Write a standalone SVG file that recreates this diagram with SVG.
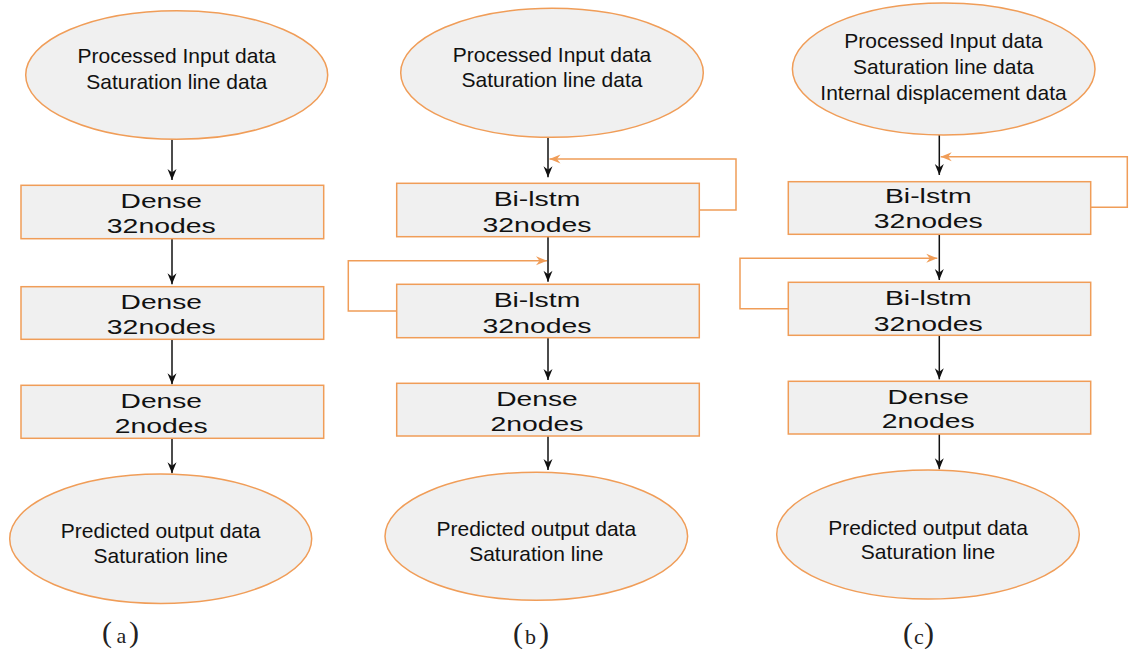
<svg xmlns="http://www.w3.org/2000/svg" width="1133" height="649" viewBox="0 0 1133 649">
  <style>
    .term { fill: #f0f0f0; stroke: #f09d58; stroke-width: 1.5; }
    .layer { fill: #f0f0f0; stroke: #f09d58; stroke-width: 1.5; }
    .flow { fill: none; stroke: #111; stroke-width: 1.5; marker-end: url(#arrowBlack); }
    .loop { fill: none; stroke: #f09d58; stroke-width: 1.5; marker-end: url(#arrowOrange); }
    .t { font-family: "Liberation Sans", Arial, sans-serif; font-size: 21px; fill: #111; text-anchor: middle; }
    .lt { font-family: "Liberation Sans", Arial, sans-serif; font-size: 19.5px; fill: #111; text-anchor: middle; }
    .cap { font-family: "Liberation Serif", "Times New Roman", serif; fill: #222; }
    .cap .p { font-size: 30px; }
    .cap .l { font-size: 22px; }
  </style>
  <defs>
    <marker id="arrowBlack" viewBox="-12 -6 13 12" refX="0" refY="0" markerWidth="13" markerHeight="12" markerUnits="userSpaceOnUse" orient="auto" overflow="visible">
      <path d="M0,0 L-11,-4.5 L-7.5,0 L-11,4.5 Z" fill="#111"/>
    </marker>
    <marker id="arrowOrange" viewBox="-12 -6 13 12" refX="0" refY="0" markerWidth="13" markerHeight="12" markerUnits="userSpaceOnUse" orient="auto" overflow="visible">
      <path d="M0,0 L-11,-4.5 L-7.5,0 L-11,4.5 Z" fill="#f09d58"/>
    </marker>
  </defs>

  <!-- connectors -->
  <g id="connectors">
    <!-- column a -->
    <path class="flow" d="M172,139.5 V180"/>
    <path class="flow" d="M172,238.7 V284.3"/>
    <path class="flow" d="M172,339.3 V384.3"/>
    <path class="flow" d="M172,438.3 V473.3"/>
    <!-- column b -->
    <path class="flow" d="M548,137.3 V177.3"/>
    <path class="flow" d="M548,236.7 V281.7"/>
    <path class="flow" d="M548,337.7 V380"/>
    <path class="flow" d="M548,436.3 V470"/>
    <path class="loop" d="M699.3,210 H736 V159 H549.5"/>
    <path class="loop" d="M396.7,311 H348.3 V260.7 H547"/>
    <!-- column c -->
    <path class="flow" d="M939.3,135 V175"/>
    <path class="flow" d="M939.3,234.3 V280"/>
    <path class="flow" d="M939.3,335.3 V379.3"/>
    <path class="flow" d="M939.3,434 V469.3"/>
    <path class="loop" d="M1090.7,207.3 H1127.3 V156.7 H940.7"/>
    <path class="loop" d="M788.3,308.7 H740 V258.3 H937.3"/>
  </g>

  <!-- column a: dense network -->
  <g id="a-input">
    <ellipse class="term" cx="176.7" cy="75" rx="151" ry="64.3"/>
    <text class="t" x="176.7" y="63.3">Processed Input data</text>
    <text class="t" x="176.7" y="89">Saturation line data</text>
  </g>
  <g id="a-dense1">
    <rect class="layer" x="21" y="185.3" width="302.7" height="53.4"/>
    <text class="lt" x="161.3" y="208.3" textLength="81.5" lengthAdjust="spacingAndGlyphs">Dense</text>
    <text class="lt" x="161.3" y="233.3" textLength="109" lengthAdjust="spacingAndGlyphs">32nodes</text>
  </g>
  <g id="a-dense2">
    <rect class="layer" x="21" y="286.7" width="302.7" height="52.6"/>
    <text class="lt" x="161.3" y="309.3" textLength="81.5" lengthAdjust="spacingAndGlyphs">Dense</text>
    <text class="lt" x="161.3" y="334.3" textLength="109" lengthAdjust="spacingAndGlyphs">32nodes</text>
  </g>
  <g id="a-dense3">
    <rect class="layer" x="21" y="385.3" width="302.7" height="53"/>
    <text class="lt" x="161.3" y="407.7" textLength="81.5" lengthAdjust="spacingAndGlyphs">Dense</text>
    <text class="lt" x="161.3" y="432.7" textLength="93" lengthAdjust="spacingAndGlyphs">2nodes</text>
  </g>
  <g id="a-output">
    <ellipse class="term" cx="160.7" cy="538.7" rx="151" ry="64.7"/>
    <text class="t" x="160.7" y="538.3">Predicted output data</text>
    <text class="t" x="160.7" y="563.3">Saturation line</text>
  </g>
  <text class="cap" y="642"><tspan class="p" x="102">(</tspan><tspan class="l" x="116.5" y="643">a</tspan><tspan class="p" x="129" y="642">)</tspan></text>

  <!-- column b: Bi-lstm network -->
  <g id="b-input">
    <ellipse class="term" cx="552" cy="72.8" rx="151.3" ry="64.5"/>
    <text class="t" x="552" y="61.7">Processed Input data</text>
    <text class="t" x="552" y="86.7">Saturation line data</text>
  </g>
  <g id="b-lstm1">
    <rect class="layer" x="396.7" y="183.3" width="302.6" height="53.4"/>
    <text class="lt" x="537" y="205.7" textLength="86.7" lengthAdjust="spacingAndGlyphs">Bi-lstm</text>
    <text class="lt" x="537" y="231.7" textLength="109" lengthAdjust="spacingAndGlyphs">32nodes</text>
  </g>
  <g id="b-lstm2">
    <rect class="layer" x="396.7" y="284.3" width="302.6" height="53.4"/>
    <text class="lt" x="537" y="306.7" textLength="86.7" lengthAdjust="spacingAndGlyphs">Bi-lstm</text>
    <text class="lt" x="537" y="332.7" textLength="109" lengthAdjust="spacingAndGlyphs">32nodes</text>
  </g>
  <g id="b-dense">
    <rect class="layer" x="396.7" y="383.3" width="302.6" height="52.7"/>
    <text class="lt" x="537" y="406" textLength="81.5" lengthAdjust="spacingAndGlyphs">Dense</text>
    <text class="lt" x="537" y="431" textLength="93" lengthAdjust="spacingAndGlyphs">2nodes</text>
  </g>
  <g id="b-output">
    <ellipse class="term" cx="536.3" cy="536.2" rx="151.3" ry="64"/>
    <text class="t" x="536.3" y="535.7">Predicted output data</text>
    <text class="t" x="536.3" y="561">Saturation line</text>
  </g>
  <text class="cap" y="643"><tspan class="p" x="513">(</tspan><tspan class="l" x="525" y="644">b</tspan><tspan class="p" x="539" y="643">)</tspan></text>

  <!-- column c: Bi-lstm network with displacement input -->
  <g id="c-input">
    <ellipse class="term" cx="943.7" cy="69" rx="151.3" ry="66"/>
    <text class="t" x="943.5" y="48.3">Processed Input data</text>
    <text class="t" x="943.5" y="74">Saturation line data</text>
    <text class="t" x="943.5" y="100">Internal displacement data</text>
  </g>
  <g id="c-lstm1">
    <rect class="layer" x="788.3" y="181.7" width="302.4" height="52.6"/>
    <text class="lt" x="928.3" y="203.3" textLength="86.7" lengthAdjust="spacingAndGlyphs">Bi-lstm</text>
    <text class="lt" x="928.3" y="228.3" textLength="109" lengthAdjust="spacingAndGlyphs">32nodes</text>
  </g>
  <g id="c-lstm2">
    <rect class="layer" x="788.3" y="282.3" width="302.4" height="53"/>
    <text class="lt" x="928.3" y="305" textLength="86.7" lengthAdjust="spacingAndGlyphs">Bi-lstm</text>
    <text class="lt" x="928.3" y="330.7" textLength="109" lengthAdjust="spacingAndGlyphs">32nodes</text>
  </g>
  <g id="c-dense">
    <rect class="layer" x="788.3" y="381.3" width="302.4" height="52.7"/>
    <text class="lt" x="928.3" y="404" textLength="81.5" lengthAdjust="spacingAndGlyphs">Dense</text>
    <text class="lt" x="928.3" y="428.3" textLength="93" lengthAdjust="spacingAndGlyphs">2nodes</text>
  </g>
  <g id="c-output">
    <ellipse class="term" cx="928" cy="534.5" rx="151.3" ry="64.5"/>
    <text class="t" x="928" y="535">Predicted output data</text>
    <text class="t" x="928" y="559.3">Saturation line</text>
  </g>
  <text class="cap" y="643"><tspan class="p" x="903">(</tspan><tspan class="l" x="914" y="644">c</tspan><tspan class="p" x="924" y="643">)</tspan></text>
</svg>
